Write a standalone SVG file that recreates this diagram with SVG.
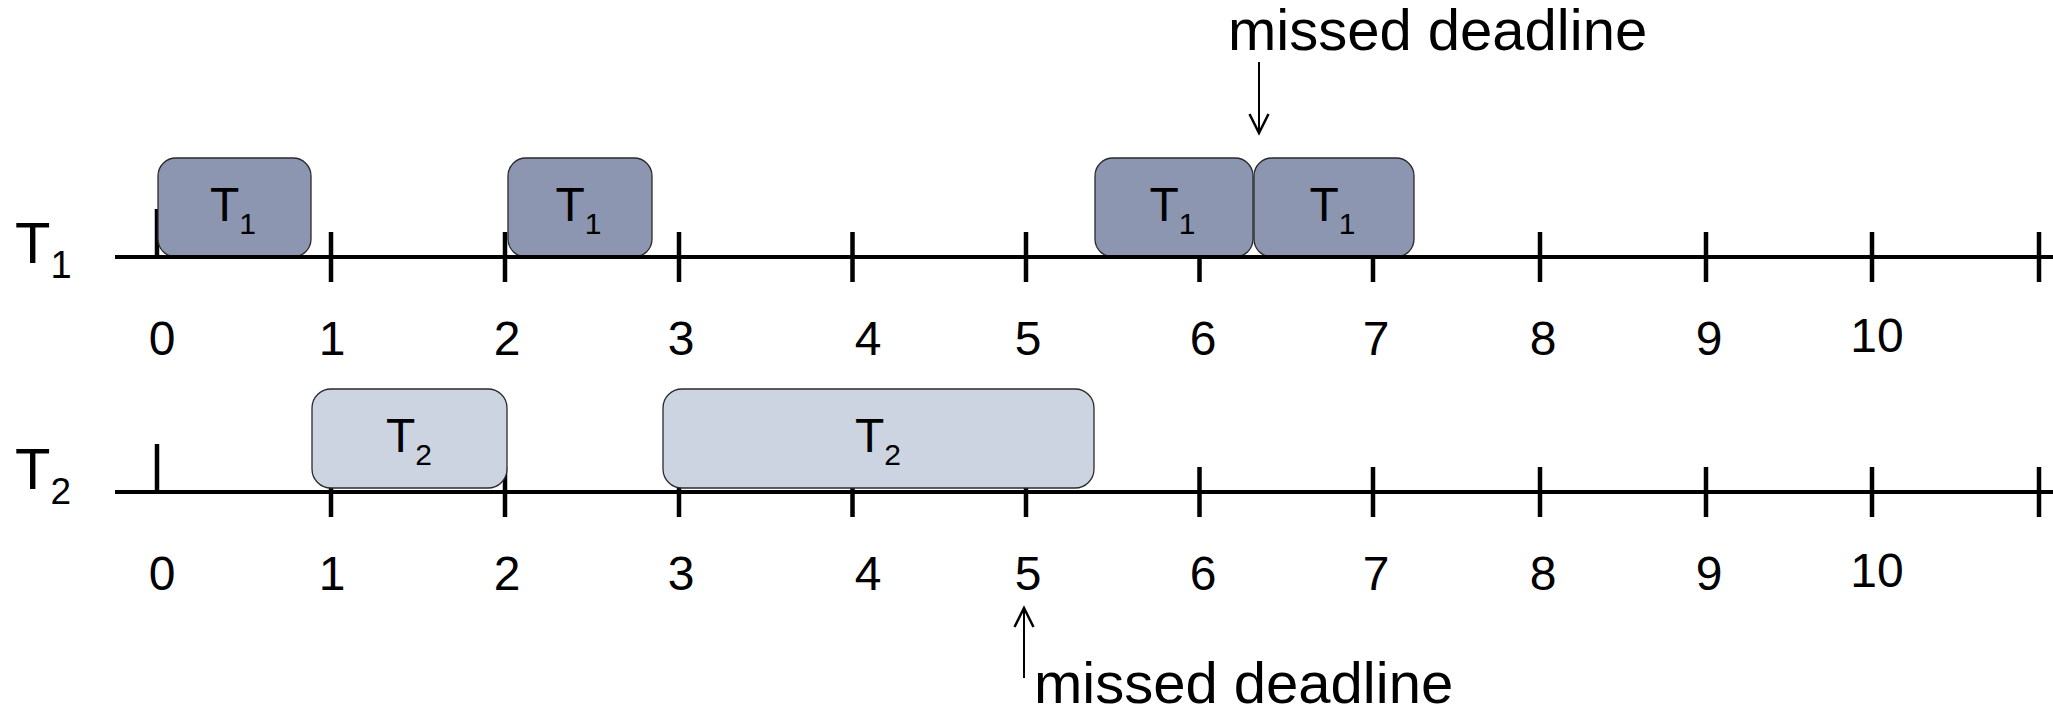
<svg xmlns="http://www.w3.org/2000/svg" width="2053" height="708" viewBox="0 0 2053 708">
  <style>
    text { font-family: "Liberation Sans", Arial, sans-serif; fill: #000; }
    .axis { stroke: #000; stroke-width: 4; fill: none; }
    .tick { stroke: #000; stroke-width: 4.5; }
    .job1 { fill: #8c96b1; stroke: #2a2a2a; stroke-width: 1.3; }
    .job2 { fill: #cdd4e1; stroke: #2a2a2a; stroke-width: 1.3; }
    .jobLabel { font-size: 48px; text-anchor: middle; }
    .rowLabel { font-size: 58px; }
    .num { font-size: 48px; text-anchor: middle; }
    .note { font-size: 58px; }
    .arrow { stroke: #000; stroke-width: 2; fill: none; }
  </style>
  <defs>
    <marker id="open-head" markerUnits="userSpaceOnUse" viewBox="-1 -12 22 24" refX="19" refY="0" markerWidth="22" markerHeight="24" orient="auto" overflow="visible">
      <path d="M0,-9.5 L19,0 L0,9.5" fill="none" stroke="#000" stroke-width="2.5"/>
    </marker>
  </defs>

  <!-- tick marks (drawn beneath the job boxes) -->
  <g id="ticks-t1">
    <line class="tick" x1="157" y1="209" x2="157" y2="257"/>
    <line class="tick" x1="331" y1="232" x2="331" y2="282"/>
    <line class="tick" x1="505" y1="232" x2="505" y2="282"/>
    <line class="tick" x1="679" y1="232" x2="679" y2="282"/>
    <line class="tick" x1="852.5" y1="232" x2="852.5" y2="282"/>
    <line class="tick" x1="1026" y1="232" x2="1026" y2="282"/>
    <line class="tick" x1="1199.5" y1="232" x2="1199.5" y2="282"/>
    <line class="tick" x1="1373" y1="232" x2="1373" y2="282"/>
    <line class="tick" x1="1540" y1="232" x2="1540" y2="282"/>
    <line class="tick" x1="1706" y1="232" x2="1706" y2="282"/>
    <line class="tick" x1="1872" y1="232" x2="1872" y2="282"/>
    <line class="tick" x1="2039" y1="232" x2="2039" y2="282"/>
  </g>
  <g id="ticks-t2">
    <line class="tick" x1="157" y1="444" x2="157" y2="492"/>
    <line class="tick" x1="331" y1="467" x2="331" y2="517"/>
    <line class="tick" x1="505" y1="467" x2="505" y2="517"/>
    <line class="tick" x1="679" y1="467" x2="679" y2="517"/>
    <line class="tick" x1="852.5" y1="467" x2="852.5" y2="517"/>
    <line class="tick" x1="1026" y1="467" x2="1026" y2="517"/>
    <line class="tick" x1="1199.5" y1="467" x2="1199.5" y2="517"/>
    <line class="tick" x1="1373" y1="467" x2="1373" y2="517"/>
    <line class="tick" x1="1540" y1="467" x2="1540" y2="517"/>
    <line class="tick" x1="1706" y1="467" x2="1706" y2="517"/>
    <line class="tick" x1="1872" y1="467" x2="1872" y2="517"/>
    <line class="tick" x1="2039" y1="467" x2="2039" y2="517"/>
  </g>

  <!-- T1 executions -->
  <g id="t1-job-a">
    <rect class="job1" x="158" y="158" width="153" height="99" rx="18"/>
    <text class="jobLabel" x="233" y="221">T<tspan font-size="30" dy="13">1</tspan></text>
  </g>
  <g id="t1-job-b">
    <rect class="job1" x="508" y="158" width="144" height="99" rx="18"/>
    <text class="jobLabel" x="578.5" y="221">T<tspan font-size="30" dy="13">1</tspan></text>
  </g>
  <g id="t1-job-c">
    <rect class="job1" x="1095" y="158" width="158" height="99" rx="18"/>
    <text class="jobLabel" x="1172.5" y="221">T<tspan font-size="30" dy="13">1</tspan></text>
  </g>
  <g id="t1-job-d">
    <rect class="job1" x="1254" y="158" width="160" height="99" rx="18"/>
    <text class="jobLabel" x="1332.5" y="221">T<tspan font-size="30" dy="13">1</tspan></text>
  </g>

  <!-- T2 executions -->
  <g id="t2-job-a">
    <rect class="job2" x="312" y="389" width="195" height="99" rx="19"/>
    <text class="jobLabel" x="409" y="452">T<tspan font-size="30" dy="12.5">2</tspan></text>
  </g>
  <g id="t2-job-b">
    <rect class="job2" x="663" y="389" width="431" height="99" rx="19"/>
    <text class="jobLabel" x="878" y="452">T<tspan font-size="30" dy="12.5">2</tspan></text>
  </g>

  <!-- time axes -->
  <g id="axes">
    <line class="axis" x1="115" y1="257" x2="2053" y2="257"/>
    <line class="axis" x1="115" y1="492" x2="2053" y2="492"/>
  </g>

  <!-- row labels -->
  <g id="row-t1">
    <text class="rowLabel" x="15" y="263">T<tspan font-size="38" dy="15">1</tspan></text>
  </g>
  <g id="row-t2">
    <text class="rowLabel" x="15" y="489">T<tspan font-size="37" dy="15">2</tspan></text>
  </g>

  <!-- time scale numbers -->
  <g id="scale-t1">
    <text class="num" x="162" y="355">0</text>
    <text class="num" x="332" y="355">1</text>
    <text class="num" x="507" y="355">2</text>
    <text class="num" x="681" y="355">3</text>
    <text class="num" x="868" y="355">4</text>
    <text class="num" x="1028" y="355">5</text>
    <text class="num" x="1203" y="355">6</text>
    <text class="num" x="1376" y="355">7</text>
    <text class="num" x="1543" y="355">8</text>
    <text class="num" x="1709" y="355">9</text>
    <text class="num" x="1877" y="352">10</text>
  </g>
  <g id="scale-t2">
    <text class="num" x="162" y="590">0</text>
    <text class="num" x="332" y="590">1</text>
    <text class="num" x="507" y="590">2</text>
    <text class="num" x="681" y="590">3</text>
    <text class="num" x="868" y="590">4</text>
    <text class="num" x="1028" y="590">5</text>
    <text class="num" x="1203" y="590">6</text>
    <text class="num" x="1376" y="590">7</text>
    <text class="num" x="1543" y="590">8</text>
    <text class="num" x="1709" y="590">9</text>
    <text class="num" x="1877" y="587">10</text>
  </g>

  <!-- deadline annotations -->
  <g id="note-t1">
    <text class="note" x="1228" y="50">missed deadline</text>
  </g>
  <g id="note-t2">
    <text class="note" x="1034" y="703">missed deadline</text>
  </g>

  <g id="connectors">
    <line class="arrow" x1="1259" y1="62" x2="1259" y2="133" marker-end="url(#open-head)"/>
    <line class="arrow" x1="1024" y1="678" x2="1024" y2="608" marker-end="url(#open-head)"/>
  </g>
</svg>
